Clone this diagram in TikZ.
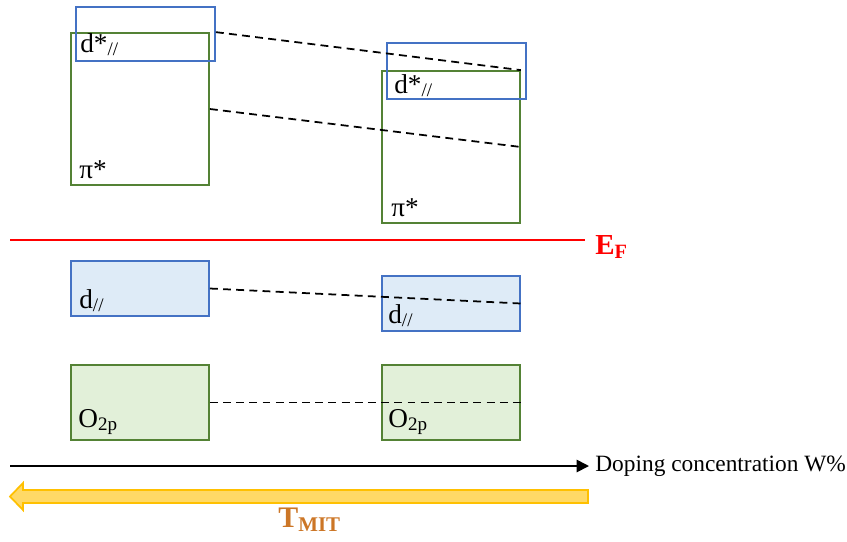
\documentclass[tikz,border=0pt]{standalone}
\usepackage{fontspec}
\setmainfont{Liberation Serif}
\usepackage{tikz}
\usetikzlibrary{arrows.meta,positioning}

\definecolor{bandblue}{RGB}{68,114,196}
\definecolor{bandbluefill}{RGB}{222,235,247}
\definecolor{bandgreen}{RGB}{84,130,53}
\definecolor{bandgreenfill}{RGB}{226,240,217}
\definecolor{tmitfill}{RGB}{255,217,102}
\definecolor{tmitline}{RGB}{255,192,0}
\definecolor{tmittext}{RGB}{204,118,38}

\begin{document}
\begin{tikzpicture}[x=0.02cm,y=-0.02cm,>=latex]
\tikzstyle{band}=[draw, line width=1pt, rectangle, inner sep=0pt, minimum width=2.76cm]
\tikzstyle{dband}=[band, draw=bandblue]
\tikzstyle{pband}=[band, draw=bandgreen]
\tikzstyle{lbl}=[anchor=base west, inner sep=0pt, font=\fontsize{15.5}{17}\selectfont]
\tikzstyle{link}=[line width=1pt, dash pattern=on 4.5pt off 3pt]
\useasboundingbox (0,0) rectangle (847,541);

% antibonding bands
\node[pband, minimum height=3.04cm] (piL) at (140,109) {};
\node[dband, minimum height=1.08cm, minimum width=2.78cm] (dsL) at (145.5,34) {};
\node[pband, minimum height=3.04cm] (piR) at (451,147) {};
\node[dband, minimum height=1.12cm, minimum width=2.78cm] (dsR) at (456.5,71) {};

% bonding bands
\node[dband, fill=bandbluefill, minimum height=1.1cm] (dL) at (140,288.5) {};
\node[dband, fill=bandbluefill, minimum height=1.1cm] (dR) at (451,303.5) {};
\node[pband, fill=bandgreenfill, minimum height=1.5cm] (oL) at (140,402.5) {};
\node[pband, fill=bandgreenfill, minimum height=1.5cm] (oR) at (451,402.5) {};

\node[lbl] (dsLt) at (80,52) {d*\textsubscript{//}};
\node[lbl] (piLt) at (79,178) {π*};
\node[lbl] (dsRt) at (394,93) {d*\textsubscript{//}};
\node[lbl] (piRt) at (391,216) {π*};
\node[lbl] (dLt) at (79,308) {d\textsubscript{//}};
\node[lbl] (dRt) at (388,323) {d\textsubscript{//}};
\node[lbl] (oLt) at (78,427) {O\textsubscript{2p}};
\node[lbl] (oRt) at (388,427) {O\textsubscript{2p}};

\draw[link] (dsL.east |- piL.north) -- (piR.north east);
\draw[link] (piL.east) -- (piR.east);
\draw[link] (dL.east) -- (dR.east);
\draw[link] (oL.east) -- (oR.east);

% Fermi level
\coordinate (ef0) at (10,240);
\coordinate (ef1) at (585,240);
\draw[red, line width=1.3pt] (ef0) -- (ef1);
\node[anchor=base west, inner sep=0pt, text=red, font=\fontsize{16.5}{18}\selectfont\bfseries] (ef) at (595,254) {E\textsubscript{F}};

% doping axis
\coordinate (ax0) at (10,466);
\coordinate (ax1) at (589,466);
\draw[-{Triangle[length=7pt,width=7pt]}, line width=1pt] (ax0) -- (ax1);
\node[anchor=west, inner sep=0pt, font=\fontsize{13.3}{15}\selectfont] (dop) at (595,466) {Doping concentration W\%};

% T_MIT arrow
\draw[fill=tmitfill, draw=tmitline, line width=1pt]
  (588,490) -- (23,490) -- (23,483) -- (10,496.5) -- (23,510) -- (23,503) -- (588,503) -- cycle;
\node[anchor=base west, inner sep=0pt, text=tmittext, font=\fontsize{17}{19}\selectfont\bfseries] (tmit) at (278,527) {T\textsubscript{MIT}};
\end{tikzpicture}
\end{document}
